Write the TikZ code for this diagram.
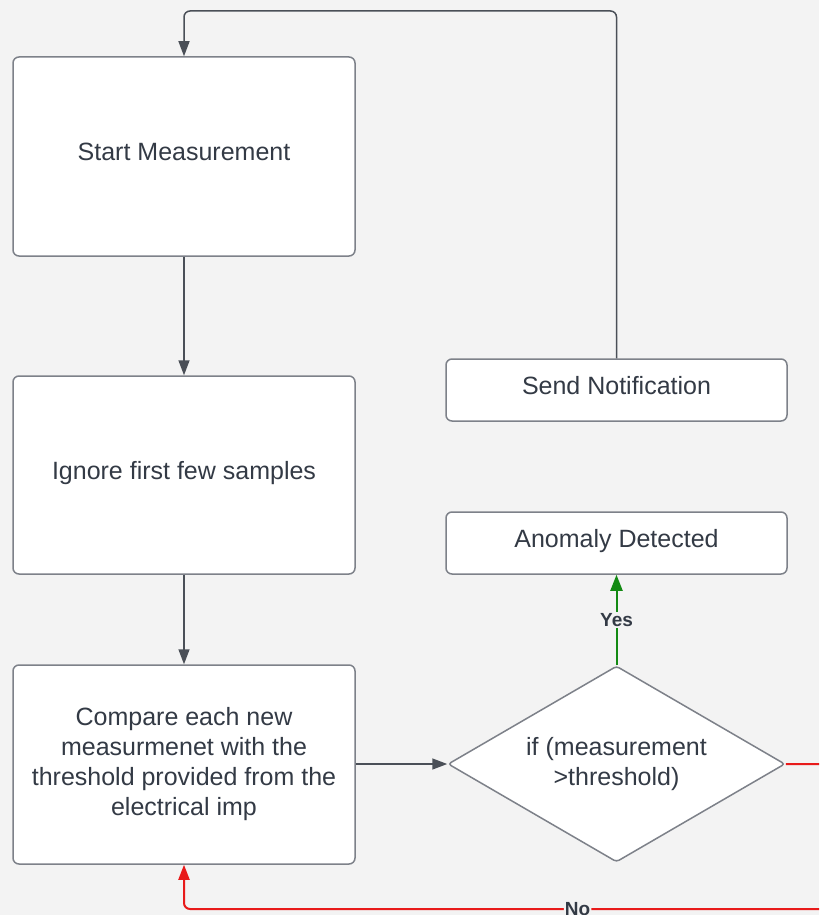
\documentclass[tikz,border=0pt]{standalone}
\usepackage{fontspec}
\setmainfont{Liberation Sans}
\usetikzlibrary{shapes.geometric,arrows.meta}
\definecolor{bg}{HTML}{F3F3F3}
\definecolor{edge}{HTML}{7D8189}
\definecolor{txt}{HTML}{333A45}
\definecolor{arrc}{HTML}{4A4F57}
\definecolor{redc}{HTML}{E81A1A}
\definecolor{greenc}{HTML}{138A13}
\tikzset{
  box/.style={draw=edge, fill=white, line width=1.5pt, rounded corners=6pt, text=txt,
    font=\fontsize{25}{30}\selectfont, align=center, inner sep=0pt},
  lift/.style={text height=18pt, text depth=10pt},
  dia/.style={diamond, draw=edge, fill=white, line width=1.5pt, rounded corners=3pt,
    inner sep=0pt, minimum width=337pt, minimum height=196pt},
  diatext/.style={text=txt, font=\fontsize{25}{30}\selectfont, align=center, inner sep=0pt},
  arr/.style={draw=arrc, line width=1.5pt, rounded corners=6pt, -{Triangle[length=15pt,width=11pt]}},
  redarr/.style={draw=redc, line width=2pt, rounded corners=6pt, -{Triangle[length=15pt,width=11pt]}},
  greenarr/.style={draw=greenc, line width=2pt, -{Triangle[length=16pt,width=12pt]}},
  lab/.style={fill=bg, text=txt, font=\bfseries\fontsize{19}{22}\selectfont, inner sep=1pt}
}
\begin{document}
\begin{tikzpicture}[x=1pt,y=-1pt]
\clip (0,0) rectangle (819,915);
\fill[bg] (0,0) rectangle (819,915);
\node[box, lift, minimum width=342pt, minimum height=199pt] (start) at (184,156.5) {Start Measurement};
\node[box, lift, minimum width=342pt, minimum height=198pt] (ignore) at (184,475) {Ignore first few samples};
\node[box, minimum width=342pt, minimum height=199pt] (compare) at (184,764.5) {Compare each new\\measurmenet with the\\threshold provided from the\\electrical imp};
\node[box, lift, minimum width=341pt, minimum height=62pt] (send) at (616.5,390) {Send Notification};
\node[box, lift, minimum width=341pt, minimum height=62pt] (anom) at (616.5,543) {Anomaly Detected};
\node[dia] (cond) at (616.5,764) {};
\node[diatext] (condtext) at (cond.center) {if (measurement\\>threshold)};
\coordinate (topright) at (616.5,11);
\coordinate (topleft) at (184,11);
\draw[arr] (send.north) -- (topright) -- (topleft) -- (start.north);
\draw[arr] (start) -- (ignore);
\draw[arr] (ignore) -- (compare);
\draw[arr] (compare.east |- cond.west) -- (cond.west);
\draw[greenarr] (cond.north) -- node[lab, pos=0.5]{Yes} (anom.south);
\coordinate (r1) at (840,764);
\coordinate (r2) at (840,909);
\coordinate (r3) at (184,909);
\draw[redarr] (cond.east) -- (r1) -- (r2) -- node[lab, pos=0.4]{No} (r3) -- (compare.south);
\end{tikzpicture}
\end{document}
